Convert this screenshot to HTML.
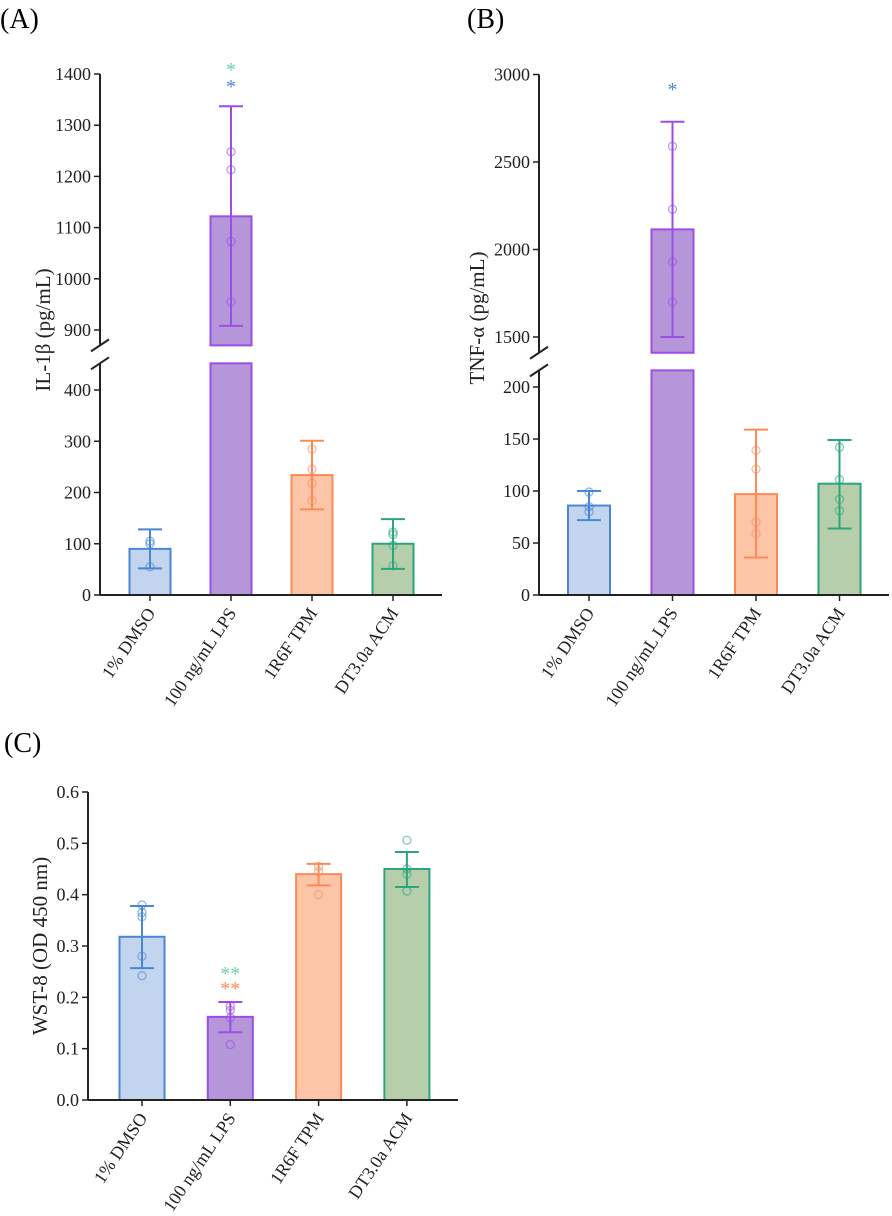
<!DOCTYPE html>
<html><head><meta charset="utf-8">
<style>
html,body{margin:0;padding:0;background:#fff;}
svg{display:block;font-family:"Liberation Serif",serif;}
</style></head>
<body>
<svg id="fig" width="892" height="1216" viewBox="0 0 892 1216" xmlns="http://www.w3.org/2000/svg">
<text x="0" y="28" font-size="28">(A)</text>
<text x="467" y="28" font-size="28">(B)</text>
<text x="4" y="752" font-size="28">(C)</text>
</svg>
<script>
const categories = ["1% DMSO","100 ng/mL LPS","1R6F TPM","DT3.0a ACM"];
const strokeCols = ["#4a86d6","#9b4de6","#fb8a58","#2aa67e"];
const fillCols = ["#c3d5ee","#b597d9","#fdc5a8","#b6cfaa"];

const aMeans = [90, 1122, 234, 100];
const aLow = [52, 908, 167, 51];
const aHigh = [128, 1337, 301, 148];
const aPoints = [[105,100,55],[1248,1213,1073,955],[285,245,218,184],[123,118,97,57]];
const aTicksLow = [0,100,200,300,400];
const aTicksHigh = [900,1000,1100,1200,1300,1400];

const bMeans = [86, 2115, 97, 107];
const bLow = [72, 1500, 36, 64];
const bHigh = [100, 2730, 159, 149];
const bPoints = [[99,85,80],[2590,2230,1930,1700],[139,121,70,59],[142,111,92,81]];
const bTicksLow = [0,50,100,150,200];
const bTicksHigh = [1500,2000,2500,3000];

const cMeans = [0.318, 0.162, 0.44, 0.45];
const cLow = [0.257, 0.132, 0.418, 0.415];
const cHigh = [0.378, 0.191, 0.46, 0.483];
const cPoints = [[0.38,0.365,0.357,0.28,0.242],[0.183,0.175,0.16,0.108],[0.455,0.445,0.40],[0.506,0.45,0.44,0.407]];
const cTicks = [0,0.1,0.2,0.3,0.4,0.5,0.6];

const NS = "http://www.w3.org/2000/svg";
const svg = document.getElementById('fig');
function mk(tag, attrs, parent){const e=document.createElementNS(NS,tag);for(const k in attrs)e.setAttribute(k,attrs[k]);(parent||svg).appendChild(e);return e;}

function panel(p){
  const g = mk('g',{});
  
  
  function y(v){
    if(!p.brk) return p.y0 - (v - p.lowMin)/(p.lowMax - p.lowMin)*(p.y0 - p.yTop);
    if(v <= p.brk.lowTop) return p.y0 - v/p.brk.lowMax*(p.y0 - p.brk.lowMaxY);
    return p.brk.hiMinY - (v - p.brk.hiMin)/(p.brk.hiMax - p.brk.hiMin)*(p.brk.hiMinY - p.brk.hiMaxY);
  }
  const xc = i => p.x0 + p.cx0 + i*p.step;
  categories.forEach((c,i)=>{
    const m = p.means[i];
    const segs = [];
    if(p.brk && m > p.brk.lowTop){
      segs.push([y(p.brk.lowTop), p.y0]);
      segs.push([y(m), y(p.brk.hiBottom)]);
    } else segs.push([y(m), p.y0]);
    segs.forEach(s=>{
      const r = mk('rect',{x:xc(i)-p.bw/2,y:s[0],width:p.bw,height:s[1]-s[0],fill:fillCols[i],stroke:strokeCols[i],'stroke-width':2},g);
      
      
    });
    const lo=y(p.low[i]), hi=y(p.high[i]);
    const e = mk('path',{d:`M${xc(i)},${lo}V${hi}M${xc(i)-12},${lo}H${xc(i)+12}M${xc(i)-12},${hi}H${xc(i)+12}`,stroke:strokeCols[i],'stroke-width':2,fill:'none'},g);
    
    
    p.points[i].forEach(v=>{
      const ci = mk('circle',{cx:xc(i),cy:y(v),r:4,fill:'none',stroke:strokeCols[i],'stroke-width':1.3,opacity:0.6},g);
      
      
    });
    mk('line',{x1:xc(i),x2:xc(i),y1:p.y0,y2:p.y0+6,stroke:'#222','stroke-width':1.5},g);
    const t = mk('text',{x:0,y:0,'font-size':18,'text-anchor':'end',fill:'#222',transform:`translate(${xc(i)+6},${p.y0+18}) rotate(-56)`},g);
    t.textContent = c;
    
    
  });
  const ax = mk('path',{d:`M${p.x0},${p.y0}H${p.xEnd}`,stroke:'#222','stroke-width':2,fill:'none'},g);
  
  
  let yd;
  if(p.brk){
    const a=y(p.brk.lowTop), b=y(p.brk.hiBottom);
    yd=`M${p.x0},${p.y0}V${a}M${p.x0},${b}V${p.brk.hiMaxY}M${p.x0-9},${a+6}L${p.x0+9},${a-6}M${p.x0-9},${b+6}L${p.x0+9},${b-6}`;
  } else yd=`M${p.x0},${p.y0}V${p.yTop}`;
  const ya = mk('path',{d:yd,stroke:'#222','stroke-width':2,fill:'none'},g);
  
  
  p.ticks.forEach(v=>{
    mk('line',{x1:p.x0-6,x2:p.x0,y1:y(v),y2:y(v),stroke:'#222','stroke-width':1.5},g);
    const t = mk('text',{x:p.x0-9,y:y(v)+6,'font-size':18,'text-anchor':'end',fill:'#222'},g);
    t.textContent = p.fmt ? p.fmt(v) : v;
    
    
  });
  const yt = mk('text',{x:0,y:0,'font-size':21,'text-anchor':'middle',fill:'#222',transform:`translate(${p.titleX},${p.titleY}) rotate(-90)`},g);
  yt.textContent = p.title;
  
  
  p.stars.forEach(s=>{
    const t = mk('text',{x:xc(s.i),y:s.y,'font-size':s.size||20,'text-anchor':'middle',fill:s.c},g);
    t.textContent = s.t;
    
    
  });
}

panel({name:'chart-il1b',x0:100,y0:595,xEnd:442,cx0:50,step:81,bw:41,
  brk:{lowMax:400,lowMaxY:390,lowTop:452,hiMin:900,hiMinY:330,hiMax:1400,hiMaxY:74,hiBottom:870},
  means:aMeans,low:aLow,high:aHigh,points:aPoints,ticks:aTicksLow.concat(aTicksHigh),
  title:'IL-1β (pg/mL)',titleX:50,titleY:330,
  stars:[{i:1,y:76,t:'*',c:'#6fcf9f'},{i:1,y:93,t:'*',c:'#4a86d6'}]});

panel({name:'chart-tnfa',x0:539,y0:595,xEnd:889,cx0:50,step:83.5,bw:42,
  brk:{lowMax:200,lowMaxY:387,lowTop:216,hiMin:1500,hiMinY:337,hiMax:3000,hiMaxY:74.5,hiBottom:1410},
  means:bMeans,low:bLow,high:bHigh,points:bPoints,ticks:bTicksLow.concat(bTicksHigh),
  title:'TNF-α (pg/mL)',titleX:484,titleY:318,
  stars:[{i:1,y:96,t:'*',c:'#4a86d6'}]});

panel({name:'chart-wst8',x0:88,y0:1100,xEnd:458,cx0:54,step:88.3,bw:45,lowMin:0,lowMax:0.6,yTop:792,
  means:cMeans,low:cLow,high:cHigh,points:cPoints,ticks:cTicks,fmt:v=>v.toFixed(1),
  title:'WST-8 (OD 450 nm)',titleX:47,titleY:946,
  stars:[{i:1,y:980,t:'**',c:'#6fcf9f',size:20},{i:1,y:995,t:'**',c:'#fb8a58',size:20}]});
</script>
</body></html>
